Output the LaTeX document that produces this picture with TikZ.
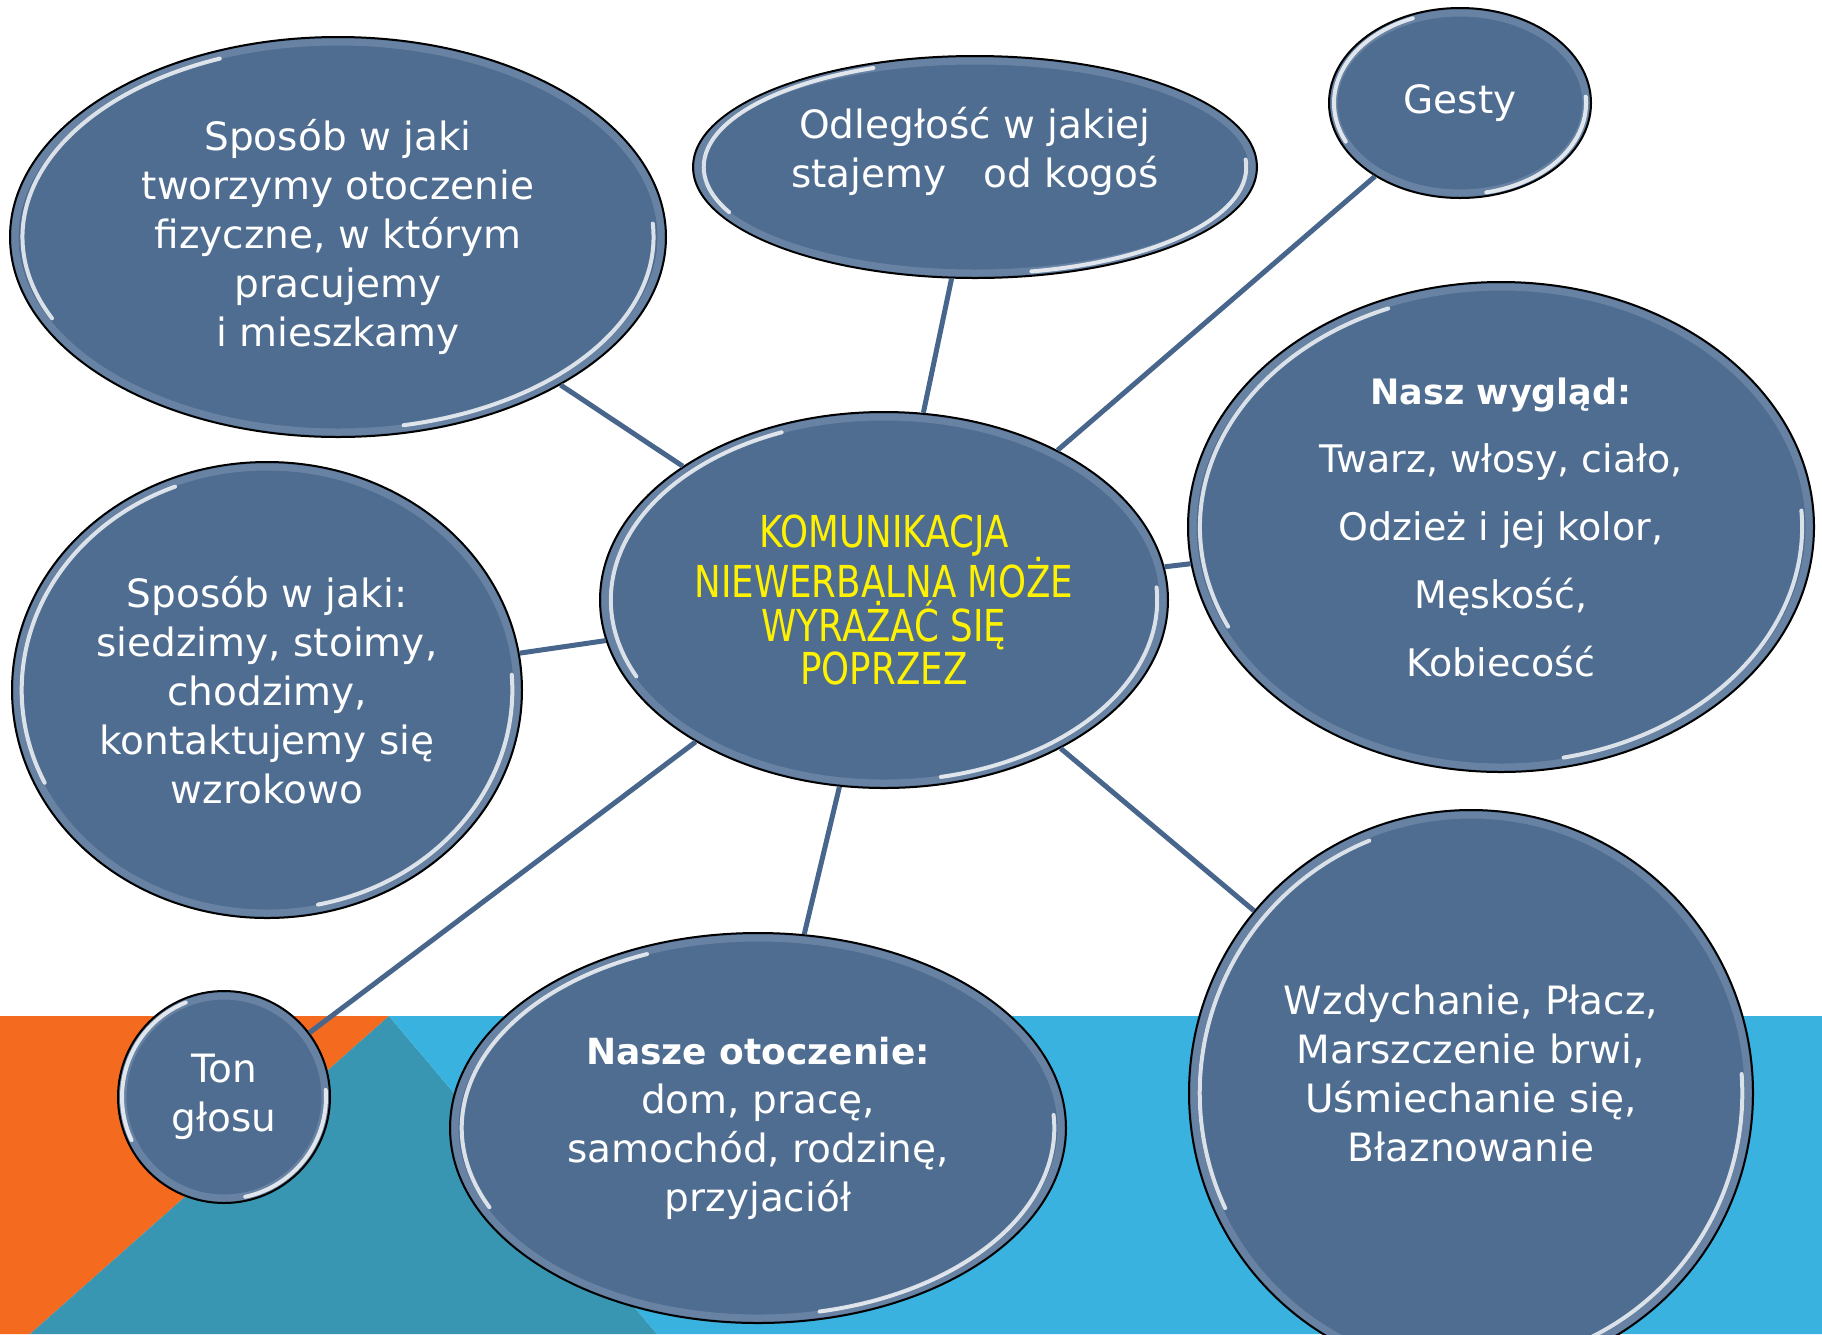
\documentclass[tikz,border=0pt]{standalone}
\usepackage{fontspec}
\setmainfont{DejaVu Sans}
\newfontfamily\capsfont{DejaVu Sans}[FakeStretch=0.81]
\usetikzlibrary{shapes.geometric}
\definecolor{bubblefill}{RGB}{79,109,145}
\definecolor{linkcol}{RGB}{72,102,140}
\definecolor{bgorange}{RGB}{244,106,30}
\definecolor{bgteal}{RGB}{56,150,178}
\definecolor{bgblue}{RGB}{57,178,224}
\definecolor{rimcol}{RGB}{160,180,205}
\tikzset{
  bubble/.style={ellipse, draw=black, line width=2pt, fill=bubblefill, inner sep=0pt,
    text=white, align=center, font=\fontsize{39}{49}\selectfont},
  txt/.style={text=white, align=center, inner sep=0pt, font=\fontsize{39}{49}\selectfont},
  link/.style={draw=linkcol, line width=5pt},
  hl/.style={draw=white, line width=4pt, line cap=round, opacity=0.8},
  rim/.style={draw=rimcol, line width=7pt, opacity=0.3},
}
\newcommand\bubblegloss[3]{%
  \pgfmathsetmacro\gA{#2*0.962}\pgfmathsetmacro\gB{#3*0.962}%
  \pgfmathsetmacro\rA{#2-5}\pgfmathsetmacro\rB{#3-5}%
  \begin{scope}[shift={(#1.center)}]
    \draw[rim] (0:\rA pt and \rB pt) arc[start angle=0,end angle=360,x radius=\rA pt,y radius=\rB pt];
    \draw[hl] (112:\gA pt and \gB pt) arc[start angle=112,end angle=205,x radius=\gA pt,y radius=\gB pt];
    \draw[hl] (-78:\gA pt and \gB pt) arc[start angle=-78,end angle=4,x radius=\gA pt,y radius=\gB pt];
  \end{scope}}
\begin{document}
\begin{tikzpicture}[x=1pt,y=-1pt]
\clip (0,0) rectangle (1822,1334);
\fill[white] (0,0) rectangle (1822,1334);
% background
\fill[bgorange] (0,1016) -- (389,1016) -- (30,1334) -- (0,1334) -- cycle;
\fill[bgteal] (389,1016) -- (657,1334) -- (30,1334) -- cycle;
\fill[bgblue] (389,1016) -- (1822,1016) -- (1822,1334) -- (657,1334) -- cycle;

% bubbles
\node[bubble, minimum width=568pt, minimum height=376pt, text=yellow,
      font=\capsfont\fontsize{44}{43.6}\selectfont] (main) at (884,600)
  {KOMUNIKACJA\\NIEWERBALNA MOŻE\\WYRAŻAĆ SIĘ\\POPRZEZ};
\node[bubble, minimum width=656pt, minimum height=400pt] (env) at (338,237)
  {Sposób w jaki\\tworzymy otoczenie\\fizyczne, w którym\\pracujemy\\i mieszkamy};
\node[bubble, minimum width=564pt, minimum height=222pt,
      label={[txt, yshift=16pt]center:Odległość w jakiej\\stajemy\ \ \ od kogoś}] (dist) at (975,167) {};
\node[bubble, minimum width=262pt, minimum height=190pt] (gest) at (1460,103) {Gesty};
\node[bubble, minimum width=626pt, minimum height=490pt,
      font=\fontsize{38}{68}\selectfont] (look) at (1501,527)
  {{\fontsize{35}{68}\selectfont\bfseries Nasz wygląd:}\\Twarz, włosy, ciało,\\Odzież i jej kolor,\\Męskość,\\Kobiecość};
\node[bubble, minimum width=510pt, minimum height=456pt] (pose) at (267,690)
  {Sposób w jaki:\\siedzimy, stoimy,\\chodzimy,\\kontaktujemy się\\wzrokowo};
\node[bubble, minimum width=212pt, minimum height=212pt] (tone) at (224,1097)
  {Ton\\głosu};
\node[bubble, minimum width=616pt, minimum height=390pt] (surr) at (758,1128)
  {{\fontsize{36}{49}\selectfont\bfseries Nasze otoczenie:}\\dom, pracę,\\samochód, rodzinę,\\przyjaciół};
\node[bubble, minimum width=564pt, minimum height=566pt,
      label={[txt, yshift=20pt]center:Wzdychanie, Płacz,\\Marszczenie brwi,\\Uśmiechanie się,\\Błaznowanie}] (sound) at (1471,1093) {};

% connectors
\draw[link] (main) -- (env);
\draw[link] (main) -- (dist);
\draw[link] (main) -- (gest);
\draw[link] (main) -- (look);
\draw[link] (main) -- (pose);
\draw[link] (main) -- (tone);
\draw[link] (main) -- (surr);
\draw[link] (main) -- (sound);

% gloss
\bubblegloss{main}{284}{188}
\bubblegloss{env}{328}{200}
\bubblegloss{dist}{282}{111}
\bubblegloss{gest}{131}{95}
\bubblegloss{look}{313}{245}
\bubblegloss{pose}{255}{228}
\bubblegloss{tone}{106}{106}
\bubblegloss{surr}{308}{195}
\bubblegloss{sound}{282}{283}
\end{tikzpicture}
\end{document}
